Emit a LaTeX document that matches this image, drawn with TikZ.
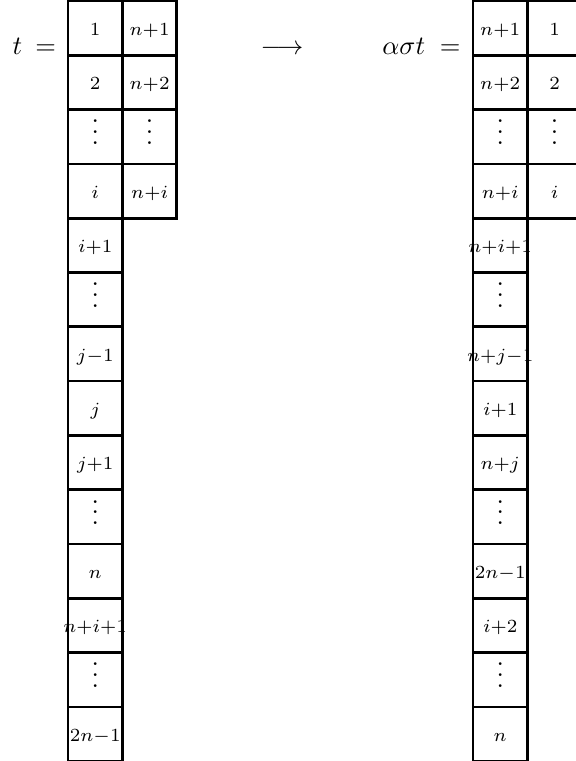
\documentclass[tikz,border=0pt]{standalone}
\newcommand\celltxt[1]{\makebox[0pt][c]{$\scriptstyle #1$}}
\newcommand\celldots{\makebox[0pt][c]{\vbox{\baselineskip4pt\lineskiplimit0pt\hbox{.}\hbox{.}\hbox{.}}}}
\tikzset{
  cell/.style={draw, line width=1pt, minimum width=20.53pt, minimum height=20.49pt,
    inner sep=0pt, outer sep=0pt, anchor=center, text height=5.55pt, text depth=0pt},
  lbl/.style={anchor=base east, inner sep=0pt}
}
\begin{document}
\begin{tikzpicture}[x=0.3774pt,y=-0.3774pt]
\useasboundingbox (0,0) rectangle (576,761);
% left tableau, first column
\foreach \t [count=\k from 0] in {\celltxt{1},\celltxt{2},\celldots,\celltxt{i},\celltxt{i+1},\celldots,\celltxt{j-1},\celltxt{j},\celltxt{j+1},\celldots,\celltxt{n},\celltxt{n+i+1},\celldots,\celltxt{2n-1}}
  \node[cell] (L1-\k) at (95.2, 28.15+54.3*\k) {\t};
% left tableau, second column
\foreach \t [count=\k from 0] in {\celltxt{n+1},\celltxt{n+2},\celldots,\celltxt{n+i}}
  \node[cell] (L2-\k) at (149.6, 28.15+54.3*\k) {\t};
% right tableau, first column
\foreach \t [count=\k from 0] in {\celltxt{n+1},\celltxt{n+2},\celldots,\celltxt{n+i},\celltxt{n+i+1},\celldots,\celltxt{n+j-1},\celltxt{i+1},\celltxt{n+j},\celldots,\celltxt{2n-1},\celltxt{i+2},\celldots,\celltxt{n}}
  \node[cell] (R1-\k) at (500.2, 28.15+54.3*\k) {\t};
% right tableau, second column
\foreach \t [count=\k from 0] in {\celltxt{1},\celltxt{2},\celldots,\celltxt{i}}
  \node[cell] (R2-\k) at (554.6, 28.15+54.3*\k) {\t};
% labels
\node[lbl] (tl) at (56.5,54.6) {$t\mskip4mu=$};
\node[anchor=base, inner sep=0pt] (arr) at (282,54.6) {$\longrightarrow$};
\node[lbl] (tr) at (461,54.6) {$\alpha\sigma t\;=$};
\end{tikzpicture}
\end{document}
